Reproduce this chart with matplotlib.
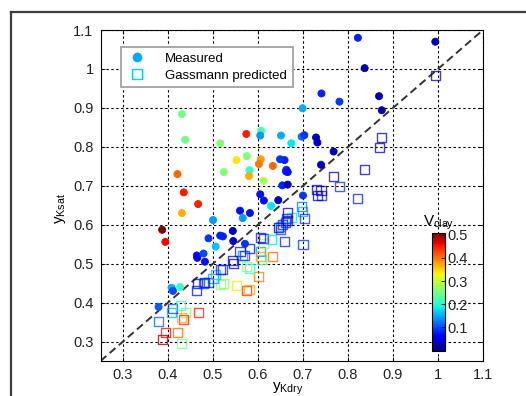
import numpy as np
import matplotlib
matplotlib.use('Agg')
import matplotlib.pyplot as plt
from matplotlib.lines import Line2D

plt.rcParams['font.family'] = ['Liberation Sans', 'DejaVu Sans']
plt.rcParams['mathtext.default'] = 'regular'

# ── data: dry-frame ratio, measured / Gassmann saturated ratio, clay volume ──
y_kdry = [0.822, 0.994, 0.837, 0.741, 0.781, 0.869, 0.875, 0.699, 0.431, 0.438,
          0.516, 0.574, 0.607, 0.605, 0.651, 0.674, 0.697, 0.703, 0.729, 0.732,
          0.768, 0.552, 0.575, 0.606, 0.602, 0.633, 0.649, 0.659, 0.524, 0.581,
          0.580, 0.421, 0.435, 0.740, 0.663, 0.662, 0.666, 0.612, 0.654, 0.666,
          0.605, 0.700, 0.613, 0.645, 0.629, 0.560, 0.582, 0.566, 0.500, 0.467,
          0.431, 0.387, 0.394, 0.490, 0.506, 0.516, 0.522, 0.544, 0.545, 0.571,
          0.464, 0.465, 0.479, 0.482, 0.408, 0.411, 0.427, 0.379]
y_ksat_meas = [1.080, 1.070, 1.002, 0.937, 0.916, 0.930, 0.894, 0.899, 0.884, 0.818,
               0.809, 0.833, 0.841, 0.829, 0.829, 0.809, 0.826, 0.830, 0.824, 0.811,
               0.788, 0.766, 0.776, 0.768, 0.756, 0.751, 0.768, 0.766, 0.735, 0.740,
               0.725, 0.730, 0.683, 0.754, 0.741, 0.737, 0.735, 0.713, 0.701, 0.703,
               0.678, 0.675, 0.662, 0.663, 0.648, 0.636, 0.630, 0.617, 0.612, 0.653,
               0.630, 0.587, 0.556, 0.565, 0.544, 0.572, 0.570, 0.584, 0.558, 0.551,
               0.521, 0.515, 0.526, 0.505, 0.438, 0.430, 0.440, 0.389]
y_ksat_gass = [0.667, 0.984, 0.741, 0.674, 0.698, 0.797, 0.825, 0.635, 0.295, 0.374,
               0.447, 0.432, 0.510, 0.530, 0.596, 0.619, 0.648, 0.616, 0.690, 0.674,
               0.725, 0.445, 0.492, 0.519, 0.467, 0.519, 0.587, 0.556, 0.450, 0.487,
               0.434, 0.322, 0.356, 0.688, 0.617, 0.606, 0.612, 0.552, 0.600, 0.631,
               0.568, 0.549, 0.564, 0.594, 0.561, 0.532, 0.539, 0.521, 0.462, 0.374,
               0.362, 0.304, 0.322, 0.451, 0.471, 0.484, 0.484, 0.509, 0.500, 0.520,
               0.432, 0.449, 0.450, 0.452, 0.374, 0.385, 0.392, 0.352]
v_clay = [0.08, 0.02, 0.02, 0.08, 0.09, 0.02, 0.02, 0.15, 0.25, 0.25,
          0.26, 0.45, 0.22, 0.14, 0.15, 0.18, 0.12, 0.09, 0.03, 0.03,
          0.02, 0.34, 0.26, 0.38, 0.40, 0.41, 0.09, 0.08, 0.26, 0.21,
          0.37, 0.41, 0.45, 0.03, 0.08, 0.08, 0.07, 0.28, 0.08, 0.03,
          0.07, 0.09, 0.07, 0.03, 0.18, 0.07, 0.07, 0.14, 0.14, 0.45,
          0.37, 0.51, 0.46, 0.09, 0.16, 0.08, 0.08, 0.03, 0.03, 0.09,
          0.07, 0.06, 0.10, 0.07, 0.15, 0.10, 0.21, 0.11]

ticks = [0.3, 0.4, 0.5, 0.6, 0.7, 0.8, 0.9, 1.0, 1.1]
tick_labels = ['0.3', '0.4', '0.5', '0.6', '0.7', '0.8', '0.9', '1', '1.1']
cbar_ticks = [0.1, 0.2, 0.3, 0.4, 0.5]

W, H = 526, 396
fig = plt.figure(figsize=(W / 100, H / 100), dpi=100)
ax = fig.add_axes([100.5 / W, 1 - 361 / H, 382.5 / W, 331 / H])

# outer frame of the original screenshot (top and left edges only visible)
fy = 1 - 12 / H
fx = 11 / W
fig.add_artist(Line2D([fx, 1.0], [fy, fy], transform=fig.transFigure,
                      color='#3c3c3c', lw=1.6))
fig.add_artist(Line2D([fx, fx], [0.0, fy], transform=fig.transFigure,
                      color='#3c3c3c', lw=1.6))

cmap = plt.get_cmap('jet')
vmin, vmax = 0.0, 0.51

ax.plot([0.25, 1.1], [0.25, 1.1], color='#333333', lw=1.4,
        linestyle=(0, (4, 2.2)), zorder=2)

# open squares coloured by clay volume
sq_colors = cmap((np.array(v_clay) - vmin) / (vmax - vmin))
ax.scatter(y_kdry, y_ksat_gass, marker='s', s=42, facecolors='none',
           edgecolors=sq_colors, linewidths=1.0, alpha=0.75, zorder=3)

sc = ax.scatter(y_kdry, y_ksat_meas, c=v_clay, cmap=cmap, vmin=vmin, vmax=vmax,
                marker='o', s=26, edgecolors='face', linewidths=0.6, zorder=4)

ax.set_xlim(0.25, 1.1)
ax.set_ylim(0.25, 1.1)
ax.set_xticks(ticks)
ax.set_xticklabels(tick_labels)
ax.set_yticks(ticks)
ax.set_yticklabels(tick_labels)
ax.tick_params(direction='in', length=3, width=0.6, labelsize=10.5,
               labelcolor='#222222', pad=5, top=True, right=True)
ax.grid(True, color='black', lw=0.8, linestyle=(0, (2.2, 2.2)))
ax.set_axisbelow(True)
for s in ax.spines.values():
    s.set_linewidth(0.8)

ax.set_xlabel(r'y$_{Kdry}$', fontsize=11)
ax.set_ylabel(r'y$_{Ksat}$', fontsize=11)
ax.xaxis.set_label_coords(0.49, -0.060)
ax.yaxis.set_label_coords(-0.085, 0.46)

handles = [
    Line2D([], [], marker='o', ls='none', color='#00aaff', markersize=6),
    Line2D([], [], marker='s', ls='none', markerfacecolor='none',
           markeredgecolor='#00ccff', markersize=7, markeredgewidth=1.0),
]
leg = ax.legend(handles, ['Measured', 'Gassmann predicted'],
                loc='upper left', bbox_to_anchor=(0.036, 0.970),
                fontsize=9.5, fancybox=False, framealpha=1,
                handletextpad=1.3, borderpad=0.45, labelspacing=0.35,
                handlelength=1.6)
leg.get_frame().set_edgecolor('#a8a8a8')
leg.get_frame().set_linewidth(1.4)

# ── colorbar ──────────────────────────────────────────────────────────────
cax = fig.add_axes([432 / W, 1 - 350.5 / H, 13 / W, 118 / H])
cb = fig.colorbar(sc, cax=cax, ticks=cbar_ticks)
cb.ax.tick_params(direction='in', length=3, width=0.6, labelsize=10.5,
                  labelcolor='#222222', pad=2)
cb.outline.set_linewidth(0.8)
cax.set_title(r'V$_{clay}$', fontsize=11, pad=4)

fig.savefig('out.png', dpi=100)
